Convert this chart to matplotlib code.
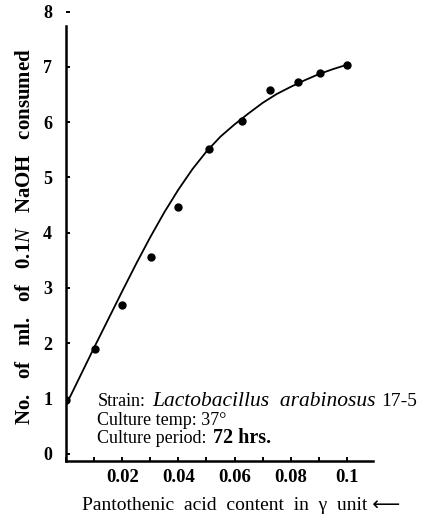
import matplotlib
matplotlib.use("Agg")
import matplotlib.pyplot as plt
from matplotlib.ticker import MultipleLocator, FixedLocator

# measured points
pts_x = [0.0, 0.0103, 0.0199, 0.0302, 0.0399, 0.0509, 0.0626, 0.0726, 0.0826, 0.0904, 0.1]
pts_y = [0.97, 1.90, 2.69, 3.56, 4.46, 5.52, 6.02, 6.58, 6.73, 6.89, 7.04]

# smooth curve
curve_x = [0.0, 0.005, 0.01, 0.015, 0.02, 0.025, 0.03, 0.035, 0.04, 0.045, 0.05,
           0.055, 0.06, 0.065, 0.07, 0.075, 0.08, 0.085, 0.09, 0.095, 0.1]
curve_y = [0.88, 1.40, 1.92, 2.43, 2.94, 3.44, 3.92, 4.37, 4.78, 5.15, 5.47,
           5.74, 5.96, 6.16, 6.35, 6.51, 6.64, 6.76, 6.87, 6.96, 7.04]

x_ticks = [0.02, 0.04, 0.06, 0.08, 0.1]
x_tick_labels = ["0.02", "0.04", "0.06", "0.08", "0.1"]
y_ticks = [0, 1, 2, 3, 4, 5, 6, 7, 8]

strain_label = "Strain:"
strain_name = "Lactobacillus  arabinosus"
strain_code = "17-5"
temp_line = "Culture temp: 37°"
period_label = "Culture period:"
period_value = "72 hrs."

plt.rcParams['font.family'] = ['Liberation Serif', 'DejaVu Sans']
plt.rcParams['mathtext.fontset'] = 'custom'
plt.rcParams['mathtext.it'] = 'Liberation Serif:italic'
plt.rcParams['mathtext.rm'] = 'Liberation Serif'
plt.rcParams['mathtext.bf'] = 'Liberation Serif:bold'

fig = plt.figure(figsize=(4.27, 5.16), dpi=100)
ax = fig.add_axes([0.1546, 0.1068, 0.719, 0.8705])

ax.plot(curve_x, curve_y, color='black', lw=1.3, solid_capstyle='round',
        solid_joinstyle='round')
ax.plot(pts_x, pts_y, 'o', color='black', ms=5)

ax.set_xlim(0, 0.1093)
ax.set_ylim(-0.13, 8.0)

for s in ['top', 'right']:
    ax.spines[s].set_visible(False)
ax.spines['left'].set_linewidth(1.8)
ax.spines['bottom'].set_linewidth(1.8)
ax.spines['left'].set_bounds(-0.13, 7.75)

ax.xaxis.set_major_locator(FixedLocator(x_ticks))
ax.set_xticklabels(x_tick_labels)
ax.xaxis.set_minor_locator(MultipleLocator(0.01))
ax.yaxis.set_major_locator(FixedLocator(y_ticks))
ax.tick_params(axis='both', which='both', direction='in', length=3, width=1.4)
ax.tick_params(axis='x', labelsize=13.5, pad=6)
ax.tick_params(axis='y', labelsize=13, pad=10)
for lab in ax.get_xticklabels() + ax.get_yticklabels():
    lab.set_fontweight('bold')

ax.set_ylabel("No.   of   ml.   of   0.1$\\mathbf{\\it{N}}$   NaOH   consumed",
              fontsize=15, fontweight='bold', labelpad=6)
ax.set_xlabel("Pantothenic  acid  content  in  γ  unit ⟵",
              fontsize=14, labelpad=8, x=0.57)

y1, y2, y3 = 0.94, 0.61, 0.28
ax.text(0.0112, y1, strain_label, fontsize=13, va='center', ha='left')
ax.text(0.0308, y1, strain_name, fontsize=15.5, style='italic', va='center', ha='left')
ax.text(0.1122, y1, strain_code, fontsize=14, va='center', ha='left')
ax.text(0.0112, y2, temp_line, fontsize=13, va='center', ha='left')
ax.text(0.0112, y3, period_label, fontsize=13, va='center', ha='left')
ax.text(0.0525, y3, period_value, fontsize=14.5, fontweight='bold', va='center', ha='left')

fig.savefig("out.png", dpi=100)
